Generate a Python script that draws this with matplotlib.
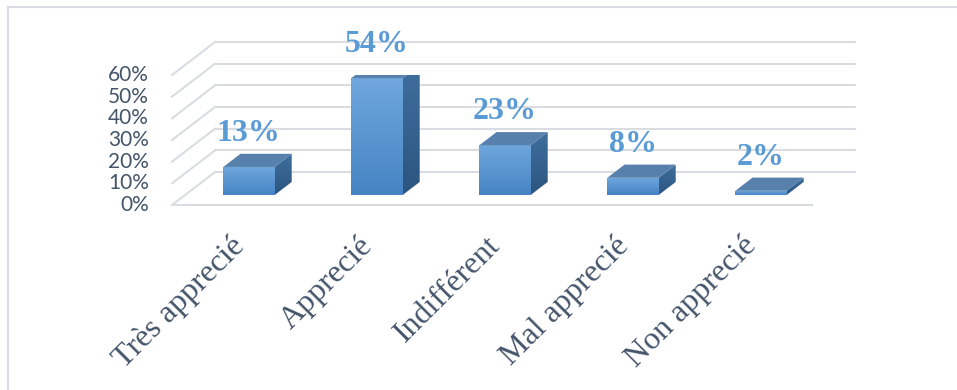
import numpy as np
import matplotlib
matplotlib.use("Agg")
import matplotlib.pyplot as plt
from matplotlib.patches import Polygon
from matplotlib import font_manager as fm

# ------------------------------------------
# Data
# ------------------------------------------
categories = ["Très apprecié", "Apprecié", "Indifférent", "Mal apprecié", "Non apprecié"]
values = [0.13, 0.54, 0.23, 0.08, 0.02]
labels = ["13%", "54%", "23%", "8%", "2%"]
ticks = [0.0, 0.1, 0.2, 0.3, 0.4, 0.5, 0.6]
tick_labels = ["0%", "10%", "20%", "30%", "40%", "50%", "60%"]

# ------------------------------------------
# Fake 3D geometry (data units)
# ------------------------------------------
DX = 0.336      # depth offset in x
DY = 0.152      # depth offset in y
F = 0.30        # bar front position inside depth
D = 0.40        # bar depth fraction
W = 0.40        # bar width

grid_col = "#D9DCE1"
text_col = "#44546A"
label_col = "#5B9BD5"

bold_serif = fm.FontProperties(family="Liberation Serif", weight="bold", size=23)

fig = plt.figure(figsize=(9.57, 3.90), dpi=100)
fig.patch.set_facecolor("white")

# outer frame (only left and top visible)
fig.add_artist(plt.Line2D([8/957, 8/957], [0, 1 - 7/390], transform=fig.transFigure,
                          color="#D9DCE1", lw=1.5))
fig.add_artist(plt.Line2D([8/957, 1], [1 - 7/390, 1 - 7/390], transform=fig.transFigure,
                          color="#D9DCE1", lw=1.5))

ax = fig.add_axes([172/957, 185/390, 640/957, 130/390])
ax.set_xlim(-0.5, 4.5)
ax.set_ylim(0, 0.6)
ax.axis("off")

n = len(categories)
x_left = -0.5
x_right = n - 0.5

# gridlines: side wall diagonals + back wall
for t, tl in zip(ticks, tick_labels):
    ax.plot([x_left, x_left + DX], [t, t + DY], color=grid_col, lw=1.5,
            clip_on=False, zorder=1)
    ax.plot([x_left + DX, x_right + DX], [t + DY, t + DY], color=grid_col, lw=1.5,
            clip_on=False, zorder=1)
    ax.text(x_left - 0.18, t, tl, ha="right", va="center", fontsize=15,
            family="Lato", color=text_col)

# floor front edge
ax.plot([x_left, x_right], [0, 0], color=grid_col, lw=1.5, clip_on=False, zorder=1)

# gradient for front faces
grad = np.linspace(1, 0, 64).reshape(-1, 1)
cmap = matplotlib.colors.LinearSegmentedColormap.from_list("front", ["#4684C4", "#6FA7DD"])
cmap_side = matplotlib.colors.LinearSegmentedColormap.from_list("side", ["#2C5580", "#3F6F9E"])

for i, (v, lab, cat) in enumerate(zip(values, labels, categories)):
    x0 = i - W / 2 + F * DX
    x1 = i + W / 2 + F * DX
    y0 = F * DY
    y1 = y0 + v
    ddx = D * DX
    ddy = D * DY

    front = Polygon([(x0, y0), (x1, y0), (x1, y1), (x0, y1)], closed=True,
                    facecolor="none", edgecolor="none", zorder=3)
    ax.add_patch(front)
    im = ax.imshow(grad, extent=(x0, x1, y0, y1), aspect="auto", cmap=cmap,
                   zorder=3, interpolation="bicubic")
    im.set_clip_path(front)

    side = Polygon([(x1, y0), (x1 + ddx, y0 + ddy), (x1 + ddx, y1 + ddy), (x1, y1)],
                   closed=True, facecolor="none", edgecolor="none", zorder=3)
    ax.add_patch(side)
    im2 = ax.imshow(grad, extent=(x1, x1 + ddx, y0, y1 + ddy), aspect="auto",
                    cmap=cmap_side, zorder=3, interpolation="bicubic")
    im2.set_clip_path(side)

    top = Polygon([(x0, y1), (x1, y1), (x1 + ddx, y1 + ddy), (x0 + ddx, y1 + ddy)],
                  closed=True, facecolor="#5880AC", edgecolor="none", zorder=4)
    ax.add_patch(top)

    # value label
    ax.text(i + F * DX, y1 + ddy + 0.028, lab, ha="center", va="bottom",
            fontproperties=bold_serif, color=label_col, zorder=5)

    # category label
    ax.text(i + F * DX - 0.15, -0.12, cat, ha="right", va="top", rotation=45,
            rotation_mode="anchor", fontsize=23, family="Liberation Serif",
            color=text_col, clip_on=False)

ax.set_xlim(-0.5, 4.5)
ax.set_ylim(0, 0.6)

fig.savefig("out.png", dpi=100, facecolor="white")
